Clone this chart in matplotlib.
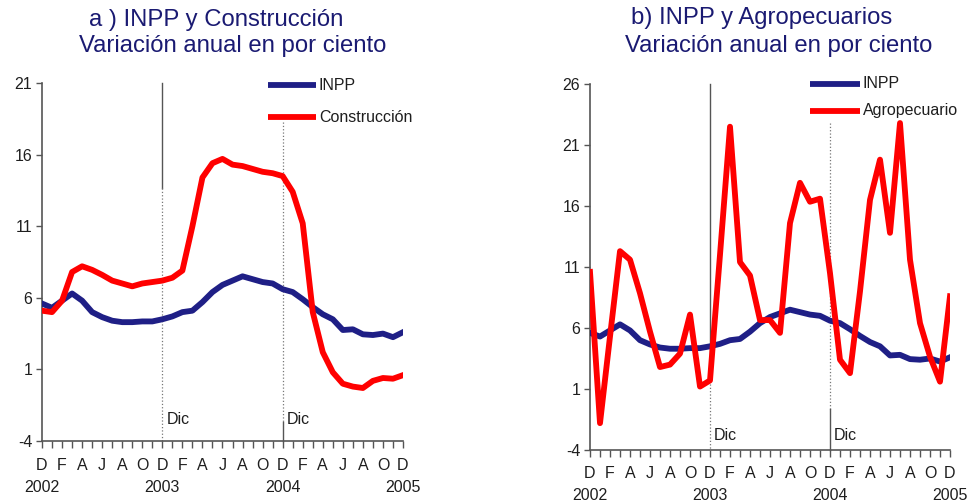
import matplotlib
matplotlib.use("Agg")
import matplotlib.pyplot as plt
from matplotlib.transforms import blended_transform_factory

plt.rcParams['font.family'] = ['Liberation Sans', 'DejaVu Sans']

# months Dec 2002 .. Dec 2005 (37 points)
month_letters = ["D", "F", "A", "J", "A", "O"] * 6 + ["D"]
year_labels = ["2002", "2003", "2004", "2005"]

inpp = [5.6, 5.3, 5.8, 6.3, 5.8, 5.0, 4.65, 4.4, 4.3, 4.3, 4.35, 4.35,
        4.5, 4.7, 5.0, 5.1, 5.7, 6.4, 6.9, 7.2, 7.5, 7.3, 7.1, 7.0,
        6.6, 6.4, 5.9, 5.35, 4.85, 4.5, 3.75, 3.8, 3.45, 3.4, 3.5, 3.25, 3.6]

construccion = [5.1, 5.0, 5.8, 7.8, 8.2, 7.95, 7.6, 7.2, 7.0, 6.8, 7.0, 7.1,
                7.2, 7.4, 7.9, 11.0, 14.4, 15.4, 15.7, 15.3, 15.2, 15.0, 14.8, 14.7,
                14.5, 13.4, 11.2, 5.0, 2.2, 0.8, 0.0, -0.2, -0.3, 0.2, 0.4, 0.35, 0.6]

agropecuario = [10.6, -1.8, 5.3, 12.3, 11.6, 8.85, 5.7, 2.8, 3.0, 3.9, 7.1, 1.2,
                1.7, 12.0, 22.5, 11.4, 10.3, 6.65, 6.65, 5.6, 14.6, 17.9, 16.35, 16.6,
                10.5, 3.4, 2.3, 9.0, 16.5, 19.8, 13.8, 22.8, 11.6, 6.4, 3.65, 1.6, 8.6]

BLUE = "#1f1f86"
RED = "#ff0000"
NAVY = "#1a1a72"
GRAY = "#555555"
TXT = "#1e1e1e"
FS = 11.5

fig = plt.figure(figsize=(9.7, 5.03), dpi=100)

ax1 = fig.add_axes([42/970, 1-441/503, 361/970, 358/503])
ax2 = fig.add_axes([590/970, 1-450/503, 360/970, 366/503])

x = list(range(37))


def setup(ax, ylim, yticks, label2, ser2, month_dy, year_dy, vl1, vl2, dic_dy, leg_xy):
    ax.plot(x, inpp, color=BLUE, lw=4.2, solid_joinstyle='round', zorder=3)
    ax.plot(x, ser2, color=RED, lw=4.2, solid_joinstyle='round', zorder=4)
    ax.set_xlim(0, 36)
    ax.set_ylim(*ylim)
    ax.set_yticks(yticks)
    ax.set_yticklabels([str(v) for v in yticks], fontsize=FS, color=TXT)
    ax.set_xticks(x)
    ax.set_xticklabels([])
    ax.tick_params(axis='x', length=5, width=1, color=GRAY, direction='out')
    ax.tick_params(axis='y', length=4, width=1, color=GRAY, direction='out', pad=3)
    for s in ['top', 'right']:
        ax.spines[s].set_visible(False)
    for s in ['left', 'bottom']:
        ax.spines[s].set_color(GRAY)
        ax.spines[s].set_linewidth(1.2)
    tr = blended_transform_factory(ax.transData, ax.transAxes)
    for i in range(0, 37, 2):
        ax.annotate(month_letters[i // 2],
                    xy=(i, 0), xycoords=tr, xytext=(0, -month_dy),
                    textcoords='offset pixels', ha='center', va='center',
                    fontsize=FS, color=TXT)
    for k, yl in enumerate(year_labels):
        ax.annotate(yl, xy=(12 * k, 0), xycoords=tr, xytext=(0, -year_dy),
                    textcoords='offset pixels', ha='center', va='center',
                    fontsize=FS, color=TXT)
    # vertical reference lines
    for xv, segs in ((12, vl1), (24, vl2)):
        for (y0, y1, ls) in segs:
            ax.plot([xv, xv], [y0, y1], color=GRAY if ls == '-' else "#777777",
                    lw=1.0 if ls == '-' else 0.9, ls=ls, zorder=2, clip_on=False)
        ax.annotate("Dic", xy=(xv, ylim[0]), xycoords='data', xytext=(4, dic_dy),
                    textcoords='offset pixels', ha='left', va='center',
                    fontsize=FS, color=TXT)
    # legend
    lx0, lx1, ly1, ly2 = leg_xy
    ax.plot([lx0, lx1], [ly1, ly1], color=BLUE, lw=4.2, clip_on=False,
            solid_capstyle='butt', transform=tr)
    ax.plot([lx0, lx1], [ly2, ly2], color=RED, lw=4.2, clip_on=False,
            solid_capstyle='butt', transform=tr)
    ax.text(lx1 + 0.3, ly1, "INPP", transform=tr, ha='left', va='center',
            fontsize=FS, color=TXT)
    ax.text(lx1 + 0.3, ly2, label2, transform=tr, ha='left', va='center',
            fontsize=FS, color=TXT)


setup(ax1, (-4, 21), [-4, 1, 6, 11, 16, 21], "Construcción", construccion,
      24, 46,
      [(21, 13.7, '-'), (13.7, -4, ':')],
      [(18.3, -2.7, ':'), (-2.7, -4, '-')],
      21,
      (22.5, 27.3, 1 - (85 - 83) / 358, 1 - (117 - 83) / 358))

setup(ax2, (-4, 26), [-4, 1, 6, 11, 16, 21, 26], "Agropecuario", agropecuario,
      24, 46,
      [(26, 2.2, '-'), (2.2, -4, ':')],
      [(22.8, -0.6, ':'), (-0.6, -4, '-')],
      15,
      (22.0, 27.0, 1 - (84 - 84) / 366, 1 - (111 - 84) / 366))

TFS = 17.2
fig.text(216/970, 1 - 20/503, "a ) INPP y Construcción", ha='center', va='center',
         fontsize=TFS, color=NAVY)
fig.text(233/970, 1 - 46/503, "Variación anual en por ciento", ha='center', va='center',
         fontsize=TFS, color=NAVY)
fig.text(762/970, 1 - 18/503, "b) INPP y Agropecuarios", ha='center', va='center',
         fontsize=TFS, color=NAVY)
fig.text(779/970, 1 - 46/503, "Variación anual en por ciento", ha='center', va='center',
         fontsize=TFS, color=NAVY)

fig.savefig("out.png", dpi=100)
